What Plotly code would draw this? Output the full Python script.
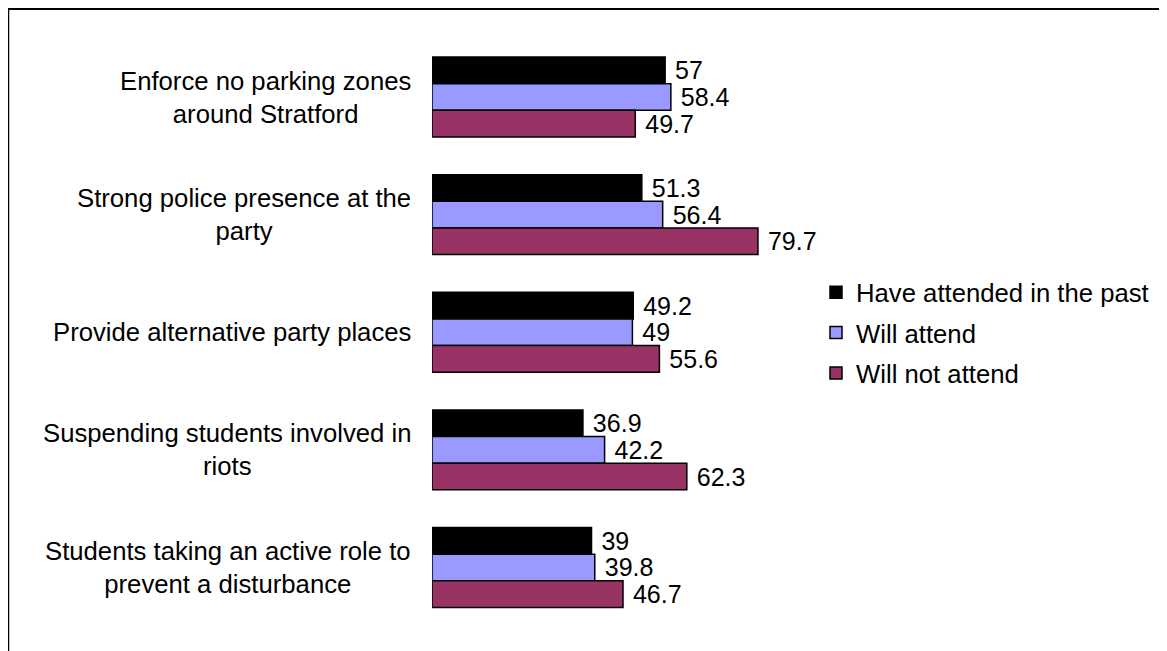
import plotly.graph_objects as go

W, H = 1167, 651
OFF = 8  # page body margin around the figure

# categories, top to bottom
categories = [
    "Enforce no parking zones<br>around Stratford",
    "Strong police presence at the<br>party",
    "Provide alternative party places",
    "Suspending students involved in<br>riots",
    "Students taking an active role to<br>prevent a disturbance",
]

series_names = ["Have attended in the past", "Will attend", "Will not attend"]
have_attended = [57, 51.3, 49.2, 36.9, 39]
will_attend = [58.4, 56.4, 49, 42.2, 39.8]
will_not_attend = [49.7, 79.7, 55.6, 62.3, 46.7]

colors = ["#000000", "#9999FF", "#993366"]
FONT = "Liberation Sans, Arial, sans-serif"


def px_x(x):
    return (x - OFF) / W


def px_y(y):
    return 1 - (y - OFF) / H


fig = go.Figure()
for i, (name, vals, col) in enumerate(zip(series_names, [have_attended, will_attend, will_not_attend], colors)):
    fig.add_trace(go.Bar(
        name=name,
        legendgroup=f"g{i}",
        y=categories,
        x=vals,
        orientation="h",
        text=[f" {v:g}" for v in vals],
        textposition="outside",
        constraintext="none",
        cliponaxis=False,
        textfont=dict(size=25, color="black", family=FONT),
        marker=dict(color=col, line=dict(color="black", width=1.5)),
        hoverinfo="skip",
    ))

# category labels drawn as centred multi-line annotations
for cat in categories:
    fig.add_annotation(
        x=px_x(413), xref="paper", xanchor="right",
        y=cat, yref="y", yanchor="middle",
        text=cat, showarrow=False, align="center",
        font=dict(size=25.7, color="black", family=FONT),
    )

# frame lines (top and left)
fig.add_shape(type="line", xref="paper", yref="paper",
              x0=0.5 / W, x1=1, y0=1 - 0.8 / H, y1=1 - 0.8 / H,
              line=dict(color="black", width=2.5))
fig.add_shape(type="line", xref="paper", yref="paper",
              x0=0.5 / W, x1=0.5 / W, y0=0, y1=1,
              line=dict(color="black", width=1.5))

fig.update_layout(
    width=W, height=H,
    margin=dict(l=0, r=0, t=0, b=0),
    paper_bgcolor="white", plot_bgcolor="white",
    barmode="group", bargap=0.32, bargroupgap=0,
    font=dict(family=FONT, size=25, color="black"),
    showlegend=True,
    legend=dict(
        x=px_x(816), xanchor="left", y=px_y(269), yanchor="top",
        traceorder="grouped", tracegroupgap=4,
        font=dict(size=25.7, family=FONT, color="black"),
        bgcolor="rgba(0,0,0,0)",
    ),
    xaxis=dict(domain=[px_x(432), px_x(432 + 409)], range=[0, 100],
               visible=False, fixedrange=True),
    yaxis=dict(domain=[px_y(626.3), px_y(38.2)], autorange="reversed",
               showticklabels=False, showgrid=False, zeroline=False,
               showline=False, ticks="", fixedrange=True),
)

fig.write_html("out.html")
